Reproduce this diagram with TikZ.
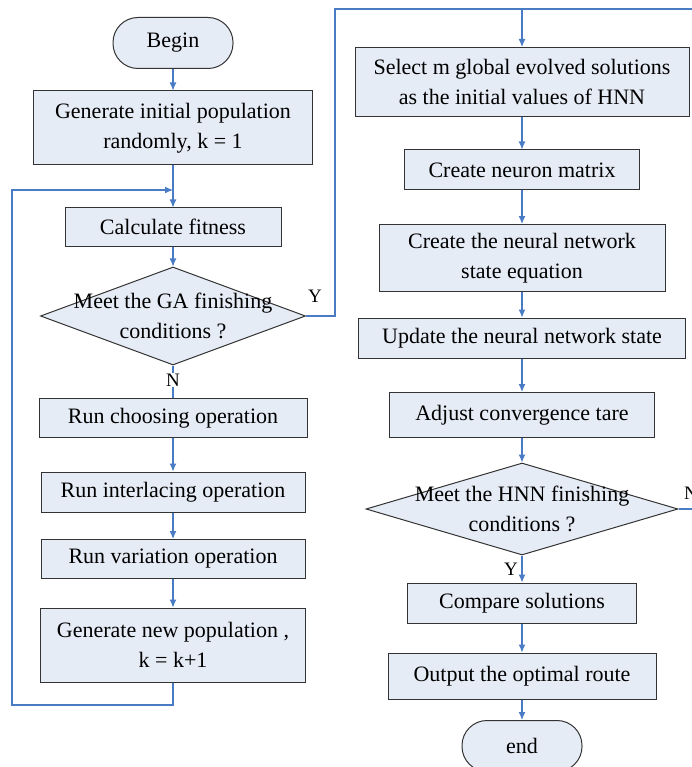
\documentclass[tikz,border=0pt]{standalone}
\usepackage{fontspec}
\setmainfont{Liberation Serif}
\usetikzlibrary{shapes.geometric,arrows.meta}
\definecolor{boxfill}{RGB}{230,236,246}
\definecolor{flowblue}{RGB}{74,124,198}

\begin{document}
\begin{tikzpicture}[x=1pt,y=-1pt]
    \tikzstyle{proc}=[draw=black!80,fill=boxfill,line width=1pt,align=center,inner sep=2pt,font=\fontsize{22}{30}\selectfont]
    \tikzstyle{term}=[proc,rounded corners=25pt,minimum width=120pt,minimum height=51pt]
    \tikzstyle{decide}=[draw=black!80,fill=boxfill,line width=1pt,diamond,inner sep=0pt]
    \tikzstyle{dtext}=[align=center,inner sep=0pt,font=\fontsize{22}{30}\selectfont]
    \tikzstyle{link}=[draw=flowblue,line width=1.1pt]
    \tikzstyle{flow}=[link,-{Latex[length=8pt,width=7pt]}]
    \tikzstyle{yn}=[font=\fontsize{19}{20}\selectfont,inner sep=1pt]

    \useasboundingbox (0,0) rectangle (692,767);
    \clip (0,0) rectangle (692,767);

    % GA part
    \node[term] (begin) at (173,43) {Begin};
    \node[proc,minimum width=279pt,minimum height=74pt] (geninit) at (173,128) {Generate initial population\\ randomly, k = 1};
    \node[proc,minimum width=216pt,minimum height=38pt] (fitness) at (173,227) {Calculate fitness};
    \node[decide,minimum width=265pt,minimum height=98pt] (ga) at (173,316) {};
    \node[dtext] (gatext) at (ga.center) {Meet the GA finishing\\ conditions ?};
    \node[proc,minimum width=268pt,minimum height=39pt] (choose) at (173,418) {Run choosing operation};
    \node[proc,minimum width=264pt,minimum height=40pt] (interlace) at (173,492) {Run interlacing operation};
    \node[proc,minimum width=264pt,minimum height=39pt] (variation) at (173,559) {Run variation operation};
    \node[proc,minimum width=265pt,minimum height=74pt] (gennew) at (173,645) {Generate new population ,\\ k = k+1};

    % HNN part
    \node[proc,minimum width=334pt,minimum height=69pt] (select) at (522,82) {Select m global evolved solutions\\ as the initial values of HNN};
    \node[proc,minimum width=235pt,minimum height=40pt] (neuron) at (522,170) {Create neuron matrix};
    \node[proc,minimum width=286pt,minimum height=67pt] (equation) at (522,258) {Create the neural network\\ state equation};
    \node[proc,minimum width=327pt,minimum height=40pt] (update) at (522,338) {Update the neural network state};
    \node[proc,minimum width=265pt,minimum height=45pt] (adjust) at (522,415) {Adjust convergence tare};
    \node[decide,minimum width=312pt,minimum height=92pt] (hnn) at (522,509) {};
    \node[dtext] (hnntext) at (hnn.center) {Meet the HNN finishing\\ conditions ?};
    \node[proc,minimum width=229pt,minimum height=40pt] (compare) at (522,603) {Compare solutions};
    \node[proc,minimum width=268pt,minimum height=46pt] (output) at (522,676) {Output the optimal route};
    \node[term] (end) at (522,746) {end};

    \coordinate (loopleft) at (12,705);
    \coordinate (loopjoin) at (173,190);
    \coordinate (gaturn) at (335,316);
    \coordinate (topjoin) at (522,9);
    \coordinate (hnnturn) at (710,509);

    \draw[flow] (begin) -- (geninit);
    \draw[flow] (geninit) -- (fitness);
    \draw[flow] (gennew.south) |- (loopleft) |- (loopjoin);
    \draw[flow] (fitness) -- (ga);
    \draw[link] (ga) -- (choose);
    \draw[flow] (choose) -- (interlace);
    \draw[flow] (interlace) -- (variation);
    \draw[flow] (variation) -- (gennew);

    \draw[link] (ga.east) -- (gaturn) |- (topjoin);
    \draw[link] (hnn.east) -- (hnnturn) |- (topjoin);
    \draw[flow] (topjoin) -- (select);
    \draw[flow] (select) -- (neuron);
    \draw[flow] (neuron) -- (equation);
    \draw[flow] (equation) -- (update);
    \draw[flow] (update) -- (adjust);
    \draw[flow] (adjust) -- (hnn);
    \draw[flow] (hnn) -- (compare);
    \draw[flow] (compare) -- (output);
    \draw[flow] (output) -- (end);

    \node[yn] (gayes) at (315,296) {Y};
    \node[yn,fill=white] (gano) at (173,380) {N};
    \node[yn] (hnnyes) at (511,569) {Y};
    \node[yn] (hnnno) at (691,493) {N};
\end{tikzpicture}
\end{document}
